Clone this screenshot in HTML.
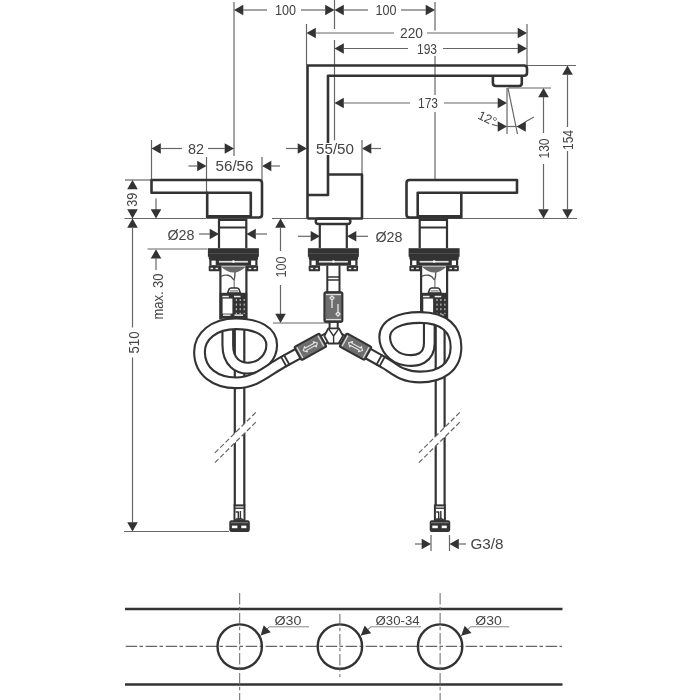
<!DOCTYPE html>
<html><head><meta charset="utf-8"><style>
html,body{margin:0;padding:0;background:#fff;}
svg{display:block;font-family:"Liberation Sans",sans-serif;will-change:transform;}
</style></head><body>
<svg width="700" height="700" viewBox="0 0 700 700">
<rect width="700" height="700" fill="#fff"/>
<line x1="234" y1="2" x2="234" y2="156" stroke="#666" stroke-width="1.2" />
<line x1="334.5" y1="0" x2="334.5" y2="29" stroke="#666" stroke-width="1.2" />
<line x1="334.5" y1="40" x2="334.5" y2="140.3" stroke="#666" stroke-width="1.2" />
<line x1="435" y1="2" x2="435" y2="30.5" stroke="#666" stroke-width="1.2" />
<line x1="435" y1="56" x2="435" y2="95" stroke="#666" stroke-width="1.2" />
<line x1="435" y1="112" x2="435" y2="180" stroke="#666" stroke-width="1.2" />
<polygon points="234.00,10.00 243.30,4.70 243.30,15.30" fill="#333"/>
<polygon points="334.50,10.00 325.20,4.70 325.20,15.30" fill="#333"/>
<line x1="243" y1="10" x2="267" y2="10" stroke="#666" stroke-width="1.2" />
<line x1="301" y1="10" x2="325.5" y2="10" stroke="#666" stroke-width="1.2" />
<text x="285.5" y="15.01" font-size="14" fill="#444" text-anchor="middle" textLength="21" lengthAdjust="spacingAndGlyphs">100</text>
<polygon points="334.50,10.00 343.80,4.70 343.80,15.30" fill="#333"/>
<polygon points="435.00,10.00 425.70,4.70 425.70,15.30" fill="#333"/>
<line x1="343.5" y1="10" x2="368" y2="10" stroke="#666" stroke-width="1.2" />
<line x1="401" y1="10" x2="426" y2="10" stroke="#666" stroke-width="1.2" />
<text x="386" y="15.01" font-size="14" fill="#444" text-anchor="middle" textLength="21" lengthAdjust="spacingAndGlyphs">100</text>
<line x1="306.5" y1="24" x2="306.5" y2="65" stroke="#666" stroke-width="1.2" />
<line x1="527" y1="24" x2="527" y2="65" stroke="#666" stroke-width="1.2" />
<polygon points="306.50,33.00 315.80,27.70 315.80,38.30" fill="#333"/>
<polygon points="527.00,33.00 517.70,27.70 517.70,38.30" fill="#333"/>
<line x1="315.5" y1="33" x2="394" y2="33" stroke="#666" stroke-width="1.2" />
<line x1="427" y1="33" x2="518" y2="33" stroke="#666" stroke-width="1.2" />
<text x="411.5" y="38.01" font-size="14" fill="#444" text-anchor="middle" textLength="23" lengthAdjust="spacingAndGlyphs">220</text>
<polygon points="334.50,48.50 343.80,43.20 343.80,53.80" fill="#333"/>
<polygon points="527.00,48.50 517.70,43.20 517.70,53.80" fill="#333"/>
<line x1="343.5" y1="48.5" x2="408" y2="48.5" stroke="#666" stroke-width="1.2" />
<line x1="443" y1="48.5" x2="518" y2="48.5" stroke="#666" stroke-width="1.2" />
<text x="427" y="53.51" font-size="14" fill="#444" text-anchor="middle" textLength="20" lengthAdjust="spacingAndGlyphs">193</text>
<polygon points="334.50,103.00 343.80,97.70 343.80,108.30" fill="#333"/>
<polygon points="507.00,103.00 497.70,97.70 497.70,108.30" fill="#333"/>
<line x1="343.5" y1="103" x2="410" y2="103" stroke="#666" stroke-width="1.2" />
<line x1="444" y1="103" x2="498" y2="103" stroke="#666" stroke-width="1.2" />
<text x="428" y="108.01" font-size="14" fill="#444" text-anchor="middle" textLength="20" lengthAdjust="spacingAndGlyphs">173</text>
<line x1="527" y1="65.5" x2="576" y2="65.5" stroke="#666" stroke-width="1.2" />
<polygon points="567.50,65.50 562.20,74.80 572.80,74.80" fill="#333"/>
<polygon points="567.50,218.50 562.20,209.20 572.80,209.20" fill="#333"/>
<line x1="567.5" y1="74.5" x2="567.5" y2="127" stroke="#666" stroke-width="1.2" />
<line x1="567.5" y1="151" x2="567.5" y2="209.5" stroke="#666" stroke-width="1.2" />
<text x="567.5" y="145.01" font-size="14" fill="#444" text-anchor="middle" textLength="20" lengthAdjust="spacingAndGlyphs" transform="rotate(-90 567.5 140)">154</text>
<line x1="508" y1="88" x2="551" y2="88" stroke="#666" stroke-width="1.2" />
<polygon points="543.50,88.00 538.20,97.30 548.80,97.30" fill="#333"/>
<polygon points="543.50,218.50 538.20,209.20 548.80,209.20" fill="#333"/>
<line x1="543.5" y1="97" x2="543.5" y2="133" stroke="#666" stroke-width="1.2" />
<line x1="543.5" y1="164" x2="543.5" y2="209.5" stroke="#666" stroke-width="1.2" />
<text x="543.5" y="153.51" font-size="14" fill="#444" text-anchor="middle" textLength="20" lengthAdjust="spacingAndGlyphs" transform="rotate(-90 543.5 148.5)">130</text>
<line x1="124.5" y1="218.5" x2="206" y2="218.5" stroke="#666" stroke-width="1.2" />
<line x1="272" y1="218.5" x2="577" y2="218.5" stroke="#666" stroke-width="1.2" />
<line x1="507" y1="88" x2="507" y2="134" stroke="#666" stroke-width="1.2" />
<line x1="508" y1="88" x2="517.5" y2="134" stroke="#666" stroke-width="1.2" />
<polygon points="507.00,126.50 497.70,121.20 497.70,131.80" fill="#333"/>
<polygon points="516.50,126.50 525.80,121.20 525.80,131.80" fill="#333"/>
<line x1="492" y1="124.3" x2="498" y2="126" stroke="#666" stroke-width="1.2" />
<line x1="525" y1="122" x2="534" y2="117" stroke="#666" stroke-width="1.2" />
<line x1="507" y1="126.5" x2="516.5" y2="126.5" stroke="#666" stroke-width="1.2" />
<text x="487.5" y="122.77" font-size="12.5" fill="#444" text-anchor="middle" transform="rotate(25 487.5 118.3)">12°</text>
<polygon points="307.00,148.50 297.70,143.20 297.70,153.80" fill="#333"/>
<polygon points="362.00,148.50 371.30,143.20 371.30,153.80" fill="#333"/>
<line x1="286" y1="148.5" x2="298" y2="148.5" stroke="#666" stroke-width="1.2" />
<line x1="371" y1="148.5" x2="381" y2="148.5" stroke="#666" stroke-width="1.2" />
<line x1="362" y1="140" x2="362" y2="174.5" stroke="#666" stroke-width="1.2" />
<line x1="151.5" y1="140" x2="151.5" y2="180" stroke="#666" stroke-width="1.2" />
<polygon points="151.50,148.50 160.80,143.20 160.80,153.80" fill="#333"/>
<polygon points="234.00,148.50 224.70,143.20 224.70,153.80" fill="#333"/>
<line x1="160.5" y1="148.5" x2="182" y2="148.5" stroke="#666" stroke-width="1.2" />
<line x1="208" y1="148.5" x2="225" y2="148.5" stroke="#666" stroke-width="1.2" />
<text x="196" y="153.51" font-size="14" fill="#444" text-anchor="middle" textLength="16" lengthAdjust="spacingAndGlyphs">82</text>
<polygon points="206.50,166.00 197.20,160.70 197.20,171.30" fill="#333"/>
<line x1="188.5" y1="166" x2="198" y2="166" stroke="#666" stroke-width="1.2" />
<polygon points="262.00,166.00 271.30,160.70 271.30,171.30" fill="#333"/>
<line x1="271" y1="166" x2="280" y2="166" stroke="#666" stroke-width="1.2" />
<line x1="206.5" y1="157" x2="206.5" y2="192.5" stroke="#666" stroke-width="1.2" />
<line x1="262" y1="157" x2="262" y2="180" stroke="#666" stroke-width="1.2" />
<text x="234.5" y="171.01" font-size="14" fill="#444" text-anchor="middle" textLength="38" lengthAdjust="spacingAndGlyphs">56/56</text>
<line x1="125" y1="180" x2="151.5" y2="180" stroke="#666" stroke-width="1.2" />
<polygon points="132.50,180.00 127.20,189.30 137.80,189.30" fill="#333"/>
<polygon points="132.50,218.50 127.20,209.20 137.80,209.20" fill="#333"/>
<polygon points="132.50,218.50 127.20,227.80 137.80,227.80" fill="#333"/>
<text x="132.5" y="204.81" font-size="14" fill="#444" text-anchor="middle" textLength="14" lengthAdjust="spacingAndGlyphs" transform="rotate(-90 132.5 199.8)">39</text>
<line x1="132.5" y1="227.5" x2="132.5" y2="327.5" stroke="#666" stroke-width="1.2" />
<line x1="132.5" y1="357.5" x2="132.5" y2="522.5" stroke="#666" stroke-width="1.2" />
<polygon points="132.50,531.50 127.20,522.20 137.80,522.20" fill="#333"/>
<text x="133.5" y="347.51" font-size="14" fill="#444" text-anchor="middle" textLength="22" lengthAdjust="spacingAndGlyphs" transform="rotate(-90 133.5 342.5)">510</text>
<line x1="124" y1="531.5" x2="229" y2="531.5" stroke="#666" stroke-width="1.2" />
<line x1="156" y1="198.5" x2="156" y2="210" stroke="#666" stroke-width="1.2" />
<polygon points="156.00,218.50 150.70,209.20 161.30,209.20" fill="#333"/>
<polygon points="156.00,249.30 150.70,258.60 161.30,258.60" fill="#333"/>
<line x1="156" y1="258" x2="156" y2="270" stroke="#666" stroke-width="1.2" />
<text x="158" y="301.51" font-size="14" fill="#444" text-anchor="middle" textLength="46" lengthAdjust="spacingAndGlyphs" transform="rotate(-90 158 296.5)">max. 30</text>
<line x1="147.5" y1="249" x2="207.5" y2="249" stroke="#666" stroke-width="1.2" />
<polygon points="280.50,218.50 275.20,227.80 285.80,227.80" fill="#333"/>
<line x1="280.5" y1="227.5" x2="280.5" y2="251" stroke="#666" stroke-width="1.2" />
<line x1="280.5" y1="285" x2="280.5" y2="314" stroke="#666" stroke-width="1.2" />
<polygon points="280.50,323.00 275.20,313.70 285.80,313.70" fill="#333"/>
<text x="280.5" y="272.01" font-size="14" fill="#444" text-anchor="middle" textLength="21" lengthAdjust="spacingAndGlyphs" transform="rotate(-90 280.5 267)">100</text>
<line x1="273" y1="323" x2="330" y2="323" stroke="#666" stroke-width="1.2" />
<polygon points="219.00,234.00 209.70,228.70 209.70,239.30" fill="#333"/>
<line x1="199" y1="234" x2="210" y2="234" stroke="#666" stroke-width="1.2" />
<polygon points="246.50,234.00 255.80,228.70 255.80,239.30" fill="#333"/>
<line x1="255.5" y1="234" x2="267" y2="234" stroke="#666" stroke-width="1.2" />
<text x="181" y="240.01" font-size="14" fill="#444" text-anchor="middle" textLength="27" lengthAdjust="spacingAndGlyphs">Ø28</text>
<polygon points="320.00,236.30 310.70,231.00 310.70,241.60" fill="#333"/>
<line x1="298" y1="236.3" x2="311" y2="236.3" stroke="#666" stroke-width="1.2" />
<polygon points="347.00,236.30 356.30,231.00 356.30,241.60" fill="#333"/>
<line x1="356" y1="236.3" x2="368" y2="236.3" stroke="#666" stroke-width="1.2" />
<text x="389" y="241.81" font-size="14" fill="#444" text-anchor="middle" textLength="27" lengthAdjust="spacingAndGlyphs">Ø28</text>
<line x1="431" y1="535" x2="431" y2="551" stroke="#666" stroke-width="1.2" />
<line x1="449.5" y1="535" x2="449.5" y2="551" stroke="#666" stroke-width="1.2" />
<polygon points="431.00,544.00 421.70,538.70 421.70,549.30" fill="#333"/>
<line x1="415" y1="544" x2="422" y2="544" stroke="#666" stroke-width="1.2" />
<polygon points="449.50,544.00 458.80,538.70 458.80,549.30" fill="#333"/>
<line x1="458.5" y1="544" x2="466" y2="544" stroke="#666" stroke-width="1.2" />
<text x="487" y="549.01" font-size="14" fill="#444" text-anchor="middle" textLength="33" lengthAdjust="spacingAndGlyphs">G3/8</text>
<path d="M307.5 218.5 V65.5 H524 Q527 65.5 527 68.5 V72.7 Q527 75.7 524 75.7 H328 V195 H307.5" stroke="#333" stroke-width="2.6" fill="none" stroke-linejoin="round" />
<path d="M328 174.5 H362 V218.5 H307.5" stroke="#333" stroke-width="2.6" fill="none" stroke-linejoin="round" />
<rect x="315" y="143" width="40" height="12" fill="#fff" stroke="none" stroke-width="0" rx="0"/>
<text x="335" y="154.01" font-size="14" fill="#444" text-anchor="middle" textLength="38" lengthAdjust="spacingAndGlyphs">55/50</text>
<path d="M492.9 75.7 V83 Q492.9 86 496 86 H519 Q521.8 86 521.8 83 V75.7" stroke="#333" stroke-width="2.6" fill="none" stroke-linejoin="round" />
<path d="M151.5 180 H259 Q262 180 262 183 V214.5 Q262 217.5 259 217.5 H207.2 V192.7 H151.5 Z" stroke="#333" stroke-width="2.6" fill="none" stroke-linejoin="round" />
<path d="M207.2 192.7 H250.8 V217.5" stroke="#333" stroke-width="2.6" fill="none" stroke-linejoin="round" />
<rect x="207.2" y="215" width="43.6" height="3" fill="#333" stroke="none" stroke-width="0" rx="0"/>
<path d="M517.0 180 H409.5 Q406.5 180 406.5 183 V214.5 Q406.5 217.5 409.5 217.5 H461.3 V192.7 H517.0 Z" stroke="#333" stroke-width="2.6" fill="none" stroke-linejoin="round" />
<path d="M461.3 192.7 H417.7 V217.5" stroke="#333" stroke-width="2.6" fill="none" stroke-linejoin="round" />
<rect x="417.7" y="215" width="43.6" height="3" fill="#333" stroke="none" stroke-width="0" rx="0"/>
<path d="M219 218.5 V248 M246.3 218.5 V248" stroke="#333" stroke-width="2.2" fill="none" stroke-linejoin="round" />
<rect x="219" y="218.5" width="27.3" height="2.5" fill="#333" stroke="none" stroke-width="0" rx="0"/>
<line x1="219" y1="227.5" x2="246.3" y2="227.5" stroke="#333" stroke-width="2" />
<rect x="207.9" y="248.2" width="51" height="8.6" fill="#333" stroke="none" stroke-width="0" rx="0"/>
<rect x="208.70000000000002" y="254.5" width="49.4" height="5.5" fill="#333" stroke="none" stroke-width="0" rx="1.5"/>
<rect x="208.9" y="253.2" width="49" height="0.8" fill="#555" stroke="none" stroke-width="0" rx="0"/>
<rect x="209.3" y="259.5" width="48.2" height="6.2" fill="#333" stroke="none" stroke-width="0" rx="0"/>
<rect x="211.5" y="260.6" width="4.2" height="4.4" fill="#fff" stroke="none" stroke-width="0" rx="0"/>
<rect x="251.09999999999997" y="260.6" width="4.2" height="4.4" fill="#fff" stroke="none" stroke-width="0" rx="0"/>
<rect x="218.9" y="260.9" width="29" height="1.7" fill="#e0e0e0" stroke="none" stroke-width="0" rx="0"/>
<rect x="232.1" y="260.2" width="2.6" height="2.6" fill="#fff" stroke="none" stroke-width="0" rx="1.3"/>
<rect x="208.70000000000002" y="265.5" width="11.4" height="5.8" fill="#333" stroke="none" stroke-width="0" rx="1"/>
<rect x="246.7" y="265.5" width="11.4" height="5.8" fill="#333" stroke="none" stroke-width="0" rx="1"/>
<rect x="210.5" y="267.8" width="2.6" height="1.4" fill="#eee" stroke="none" stroke-width="0" rx="0"/>
<rect x="215.5" y="267.8" width="2.6" height="1.4" fill="#eee" stroke="none" stroke-width="0" rx="0"/>
<rect x="248.7" y="267.8" width="2.6" height="1.4" fill="#eee" stroke="none" stroke-width="0" rx="0"/>
<rect x="253.7" y="267.8" width="2.6" height="1.4" fill="#eee" stroke="none" stroke-width="0" rx="0"/>
<path d="M220.4 265.5 V319.6 M246.4 265.5 V319.6" stroke="#333" stroke-width="2.2" fill="none" stroke-linejoin="round" />
<path d="M221 276.4 C226 274 231 275 233 279 C234 281 235 279 235 272" stroke="#555" stroke-width="1.4" fill="none" stroke-linejoin="round" />
<line x1="234.2" y1="280" x2="234.2" y2="288" stroke="#777" stroke-width="1.2" />
<path d="M227.6 293 L229 289.2 Q229.8 288 231 288 H237 Q238.2 288 239 289.2 L240.4 293 Z" stroke="#333" stroke-width="1.6" fill="#fff" stroke-linejoin="round" />
<rect x="230" y="290.3" width="8" height="1.2" fill="#777" stroke="none" stroke-width="0" rx="0"/>
<path d="M221 266.5 H246 Q240 272.5 233.5 272.5 Q227 272.5 221 266.5 Z" stroke="#333" stroke-width="0" fill="#6a6a6a" stroke-linejoin="round" />
<rect x="219.6" y="292.8" width="27.6" height="26" fill="#333" stroke="none" stroke-width="0" rx="0"/>
<rect x="222.3" y="295.8" width="6.5" height="1.5" fill="#eee" stroke="none" stroke-width="0" rx="0"/>
<rect x="234" y="295.8" width="6.5" height="1.5" fill="#eee" stroke="none" stroke-width="0" rx="0"/>
<rect x="222.6" y="298.6" width="9.8" height="15" fill="#fff" stroke="none" stroke-width="0" rx="0"/>
<line x1="236.3" y1="299" x2="236.3" y2="314" stroke="#ddd" stroke-width="1" stroke-dasharray="2,2.6"/>
<line x1="240.2" y1="299" x2="240.2" y2="314" stroke="#ddd" stroke-width="1" stroke-dasharray="2,2.6"/>
<line x1="244.2" y1="299" x2="244.2" y2="314" stroke="#ddd" stroke-width="1" stroke-dasharray="2,2.6"/>
<rect x="223" y="314.4" width="7.5" height="1.5" fill="#eee" stroke="none" stroke-width="0" rx="0"/>
<rect x="234.5" y="314.4" width="8.5" height="1.5" fill="#eee" stroke="none" stroke-width="0" rx="0"/>
<path d="M419.7 218.5 V248 M447.0 218.5 V248" stroke="#333" stroke-width="2.2" fill="none" stroke-linejoin="round" />
<rect x="419.7" y="218.5" width="27.3" height="2.5" fill="#333" stroke="none" stroke-width="0" rx="0"/>
<line x1="419.7" y1="227.5" x2="447.0" y2="227.5" stroke="#333" stroke-width="2" />
<rect x="408.6" y="248.2" width="51" height="8.6" fill="#333" stroke="none" stroke-width="0" rx="0"/>
<rect x="409.40000000000003" y="254.5" width="49.4" height="5.5" fill="#333" stroke="none" stroke-width="0" rx="1.5"/>
<rect x="409.6" y="253.2" width="49" height="0.8" fill="#555" stroke="none" stroke-width="0" rx="0"/>
<rect x="410.0" y="259.5" width="48.2" height="6.2" fill="#333" stroke="none" stroke-width="0" rx="0"/>
<rect x="412.20000000000005" y="260.6" width="4.2" height="4.4" fill="#fff" stroke="none" stroke-width="0" rx="0"/>
<rect x="451.8" y="260.6" width="4.2" height="4.4" fill="#fff" stroke="none" stroke-width="0" rx="0"/>
<rect x="419.6" y="260.9" width="29" height="1.7" fill="#e0e0e0" stroke="none" stroke-width="0" rx="0"/>
<rect x="432.8" y="260.2" width="2.6" height="2.6" fill="#fff" stroke="none" stroke-width="0" rx="1.3"/>
<rect x="409.40000000000003" y="265.5" width="11.4" height="5.8" fill="#333" stroke="none" stroke-width="0" rx="1"/>
<rect x="447.40000000000003" y="265.5" width="11.4" height="5.8" fill="#333" stroke="none" stroke-width="0" rx="1"/>
<rect x="411.20000000000005" y="267.8" width="2.6" height="1.4" fill="#eee" stroke="none" stroke-width="0" rx="0"/>
<rect x="416.20000000000005" y="267.8" width="2.6" height="1.4" fill="#eee" stroke="none" stroke-width="0" rx="0"/>
<rect x="449.40000000000003" y="267.8" width="2.6" height="1.4" fill="#eee" stroke="none" stroke-width="0" rx="0"/>
<rect x="454.40000000000003" y="267.8" width="2.6" height="1.4" fill="#eee" stroke="none" stroke-width="0" rx="0"/>
<path d="M421.1 265.5 V319.6 M447.1 265.5 V319.6" stroke="#333" stroke-width="2.2" fill="none" stroke-linejoin="round" />
<path d="M421.7 276.4 C426.7 274 431.7 275 433.7 279 C434.7 281 435.7 279 435.7 272" stroke="#555" stroke-width="1.4" fill="none" stroke-linejoin="round" />
<line x1="434.9" y1="280" x2="434.9" y2="288" stroke="#777" stroke-width="1.2" />
<path d="M428.29999999999995 293 L429.7 289.2 Q430.5 288 431.7 288 H437.7 Q438.9 288 439.7 289.2 L441.1 293 Z" stroke="#333" stroke-width="1.6" fill="#fff" stroke-linejoin="round" />
<rect x="430.7" y="290.3" width="8" height="1.2" fill="#777" stroke="none" stroke-width="0" rx="0"/>
<path d="M421.7 266.5 H446.7 Q440.7 272.5 434.2 272.5 Q427.7 272.5 421.7 266.5 Z" stroke="#333" stroke-width="0" fill="#6a6a6a" stroke-linejoin="round" />
<rect x="420.29999999999995" y="292.8" width="27.6" height="26" fill="#333" stroke="none" stroke-width="0" rx="0"/>
<rect x="423.0" y="295.8" width="6.5" height="1.5" fill="#eee" stroke="none" stroke-width="0" rx="0"/>
<rect x="434.7" y="295.8" width="6.5" height="1.5" fill="#eee" stroke="none" stroke-width="0" rx="0"/>
<rect x="423.29999999999995" y="298.6" width="9.8" height="15" fill="#fff" stroke="none" stroke-width="0" rx="0"/>
<line x1="437.0" y1="299" x2="437.0" y2="314" stroke="#ddd" stroke-width="1" stroke-dasharray="2,2.6"/>
<line x1="440.9" y1="299" x2="440.9" y2="314" stroke="#ddd" stroke-width="1" stroke-dasharray="2,2.6"/>
<line x1="444.9" y1="299" x2="444.9" y2="314" stroke="#ddd" stroke-width="1" stroke-dasharray="2,2.6"/>
<rect x="423.7" y="314.4" width="7.5" height="1.5" fill="#eee" stroke="none" stroke-width="0" rx="0"/>
<rect x="435.2" y="314.4" width="8.5" height="1.5" fill="#eee" stroke="none" stroke-width="0" rx="0"/>
<path d="M318.5 224 Q315.7 224 315.7 221.3 Q315.7 218.7 318.5 218.7 H347.6 Q350.4 218.7 350.4 221.3 Q350.4 224 347.6 224 Z" stroke="#333" stroke-width="2.4" fill="none" stroke-linejoin="round" />
<path d="M319.8 224 V248 M346.8 224 V248" stroke="#333" stroke-width="2.2" fill="none" stroke-linejoin="round" />
<rect x="307.9" y="248.2" width="51" height="8.6" fill="#333" stroke="none" stroke-width="0" rx="0"/>
<rect x="308.7" y="254.5" width="49.4" height="5.5" fill="#333" stroke="none" stroke-width="0" rx="1.5"/>
<rect x="308.9" y="253.2" width="49" height="0.8" fill="#555" stroke="none" stroke-width="0" rx="0"/>
<rect x="309.29999999999995" y="259.5" width="48.2" height="6.2" fill="#333" stroke="none" stroke-width="0" rx="0"/>
<rect x="311.5" y="260.6" width="4.2" height="4.4" fill="#fff" stroke="none" stroke-width="0" rx="0"/>
<rect x="351.09999999999997" y="260.6" width="4.2" height="4.4" fill="#fff" stroke="none" stroke-width="0" rx="0"/>
<rect x="318.9" y="260.9" width="29" height="1.7" fill="#e0e0e0" stroke="none" stroke-width="0" rx="0"/>
<rect x="332.09999999999997" y="260.2" width="2.6" height="2.6" fill="#fff" stroke="none" stroke-width="0" rx="1.3"/>
<rect x="308.7" y="265.5" width="11.4" height="5.8" fill="#333" stroke="none" stroke-width="0" rx="1"/>
<rect x="346.7" y="265.5" width="11.4" height="5.8" fill="#333" stroke="none" stroke-width="0" rx="1"/>
<rect x="310.5" y="267.8" width="2.6" height="1.4" fill="#eee" stroke="none" stroke-width="0" rx="0"/>
<rect x="315.5" y="267.8" width="2.6" height="1.4" fill="#eee" stroke="none" stroke-width="0" rx="0"/>
<rect x="348.7" y="267.8" width="2.6" height="1.4" fill="#eee" stroke="none" stroke-width="0" rx="0"/>
<rect x="353.7" y="267.8" width="2.6" height="1.4" fill="#eee" stroke="none" stroke-width="0" rx="0"/>
<path d="M327.3 265.5 V292.6 M339.5 265.5 V292.6" stroke="#333" stroke-width="2" fill="none" stroke-linejoin="round" />
<line x1="327.3" y1="277" x2="339.5" y2="277" stroke="#333" stroke-width="1.5" />
<line x1="327.3" y1="280" x2="339.5" y2="280" stroke="#333" stroke-width="1.5" />
<rect x="325" y="292.6" width="16.7" height="29.1" fill="#6a6a6a" stroke="#333" stroke-width="2" rx="1.5"/>
<line x1="234.8" y1="330" x2="234.8" y2="505.4" stroke="#333" stroke-width="2.2" />
<line x1="244.3" y1="330" x2="244.3" y2="505.4" stroke="#333" stroke-width="2.2" />
<line x1="435.7" y1="323" x2="435.7" y2="505.4" stroke="#333" stroke-width="2.2" />
<line x1="444.6" y1="323" x2="444.6" y2="505.4" stroke="#333" stroke-width="2.2" />
<polygon points="214.9,452.9 257.1,411.1 257.1,420.9 214.9,462.6" fill="#fff"/>
<line x1="214.9" y1="452.9" x2="257.1" y2="411.1" stroke="#666" stroke-width="1.2" stroke-dasharray="5,2.5"/>
<line x1="214.9" y1="462.6" x2="257.1" y2="420.9" stroke="#666" stroke-width="1.2" stroke-dasharray="5,2.5"/>
<polygon points="418.9,452.9 461.1,411.1 461.1,420.9 418.9,462.6" fill="#fff"/>
<line x1="418.9" y1="452.9" x2="461.1" y2="411.1" stroke="#666" stroke-width="1.2" stroke-dasharray="5,2.5"/>
<line x1="418.9" y1="462.6" x2="461.1" y2="420.9" stroke="#666" stroke-width="1.2" stroke-dasharray="5,2.5"/>
<rect x="234.5" y="505.4" width="10" height="14.8" fill="#fff" stroke="#333" stroke-width="2" rx="0"/>
<line x1="234.8" y1="508.2" x2="244.3" y2="508.2" stroke="#333" stroke-width="1.4" />
<path d="M235.8 512 H238.3 V519 H235.8" stroke="#333" stroke-width="1.4" fill="#fff" stroke-linejoin="round" />
<path d="M240.4 511 V517.5 Q240.4 519 242.8 519.5 M240.4 517.5 Q240.4 519 238.3 519.5" stroke="#333" stroke-width="1.4" fill="none" stroke-linejoin="round" />
<rect x="229.3" y="520.2" width="20.5" height="11.8" fill="#333" stroke="none" stroke-width="0" rx="2.2"/>
<rect x="230.8" y="522.3" width="17.5" height="0.9" fill="#888" stroke="none" stroke-width="0" rx="0"/>
<rect x="231.9" y="525.6" width="5.5" height="2.6" fill="#fff" stroke="none" stroke-width="0" rx="0"/>
<rect x="241.3" y="525.6" width="5.1" height="2.6" fill="#fff" stroke="none" stroke-width="0" rx="0"/>
<rect x="434.9" y="505.4" width="10" height="14.8" fill="#fff" stroke="#333" stroke-width="2" rx="0"/>
<line x1="435.2" y1="508.2" x2="444.7" y2="508.2" stroke="#333" stroke-width="1.4" />
<path d="M436.2 512 H438.7 V519 H436.2" stroke="#333" stroke-width="1.4" fill="#fff" stroke-linejoin="round" />
<path d="M440.8 511 V517.5 Q440.8 519 443.2 519.5 M440.8 517.5 Q440.8 519 438.7 519.5" stroke="#333" stroke-width="1.4" fill="none" stroke-linejoin="round" />
<rect x="429.7" y="520.2" width="20.5" height="11.8" fill="#333" stroke="none" stroke-width="0" rx="2.2"/>
<rect x="431.2" y="522.3" width="17.5" height="0.9" fill="#888" stroke="none" stroke-width="0" rx="0"/>
<rect x="432.3" y="525.6" width="5.5" height="2.6" fill="#fff" stroke="none" stroke-width="0" rx="0"/>
<rect x="441.7" y="525.6" width="5.1" height="2.6" fill="#fff" stroke="none" stroke-width="0" rx="0"/>
<path d="M227.8 319.5 V345 C227.8 362 238 369 250 368 C262 367 271.7 357 271.7 345" stroke="#333" stroke-width="12.8" fill="none" stroke-linecap="butt"/>
<path d="M227.8 319.5 V345 C227.8 362 238 369 250 368 C262 367 271.7 357 271.7 345" stroke="#fff" stroke-width="8.600000000000001" fill="none" stroke-linecap="butt"/>
<path d="M271.7 345 C271.7 332 258 323.8 236 323.8 C214 323.8 199.5 336 199.5 352" stroke="#333" stroke-width="12.8" fill="none" stroke-linecap="butt"/>
<path d="M271.7 345 C271.7 332 258 323.8 236 323.8 C214 323.8 199.5 336 199.5 352" stroke="#fff" stroke-width="8.600000000000001" fill="none" stroke-linecap="butt"/>
<path d="M199.5 352 C199.5 372 216 382.8 236 382.8 C256 382.8 268 370 282.35 362.3 L298 353.7" stroke="#333" stroke-width="12.8" fill="none" stroke-linecap="butt"/>
<path d="M199.5 352 C199.5 372 216 382.8 236 382.8 C256 382.8 268 370 282.35 362.3 L298 353.7" stroke="#fff" stroke-width="8.600000000000001" fill="none" stroke-linecap="butt"/>
<path d="M429.3 317.5 V343 C429.3 358 418 362 405 360 C393 358 384.7 348 384.7 337" stroke="#333" stroke-width="12.8" fill="none" stroke-linecap="butt"/>
<path d="M429.3 317.5 V343 C429.3 358 418 362 405 360 C393 358 384.7 348 384.7 337" stroke="#fff" stroke-width="8.600000000000001" fill="none" stroke-linecap="butt"/>
<path d="M384.7 337 C384.7 324 400 317.5 420 317.5 C445 317.5 456 330 456 347" stroke="#333" stroke-width="12.8" fill="none" stroke-linecap="butt"/>
<path d="M384.7 337 C384.7 324 400 317.5 420 317.5 C445 317.5 456 330 456 347" stroke="#fff" stroke-width="8.600000000000001" fill="none" stroke-linecap="butt"/>
<path d="M456 347 C456 368 440 377 420 377 C400 377 393 367 383.5 362.3 L368 353.6" stroke="#333" stroke-width="12.8" fill="none" stroke-linecap="butt"/>
<path d="M456 347 C456 368 440 377 420 377 C400 377 393 367 383.5 362.3 L368 353.6" stroke="#fff" stroke-width="8.600000000000001" fill="none" stroke-linecap="butt"/>
<line x1="283.73" y1="354.47" x2="289.74" y2="365.31" stroke="#333" stroke-width="1.8" />
<line x1="280.67" y1="356.16" x2="286.68" y2="367.01" stroke="#333" stroke-width="1.8" />
<line x1="382.17" y1="354.37" x2="376.16" y2="365.21" stroke="#333" stroke-width="1.8" />
<line x1="385.23" y1="356.06" x2="379.22" y2="366.91" stroke="#333" stroke-width="1.8" />
<path d="M329.6 321.8 V328 M337.7 321.8 V328" stroke="#333" stroke-width="2" fill="none" stroke-linejoin="round" />
<g transform="translate(310.35 346.8) rotate(-29)">
<rect x="13" y="-4.5" width="9" height="9" fill="#fff" stroke="#333" stroke-width="1.8" rx="0"/>
</g>
<g transform="translate(355.55 346.7) rotate(29)">
<rect x="-22" y="-4.5" width="9" height="9" fill="#fff" stroke="#333" stroke-width="1.8" rx="0"/>
</g>
<g transform="translate(310.35 346.8) rotate(-29)">
<rect x="-14.3" y="-7.5" width="28.6" height="15" fill="#6e6e6e" stroke="#333" stroke-width="2" rx="1.5"/>
<line x1="-12" y1="-6" x2="-12" y2="6" stroke="#ddd" stroke-width="1.2" />
<line x1="12" y1="-6" x2="12" y2="6" stroke="#ddd" stroke-width="1.2" />
<path d="M-8 0 L-5 -3 V-1.3 H5 V-3 L8 0 L5 3 V1.3 H-5 V3 Z" stroke="#e8e8e8" stroke-width="1.1" fill="none" stroke-linejoin="round" />
</g>
<g transform="translate(355.55 346.7) rotate(29)">
<rect x="-14.3" y="-7.5" width="28.6" height="15" fill="#6e6e6e" stroke="#333" stroke-width="2" rx="1.5"/>
<line x1="-12" y1="-6" x2="-12" y2="6" stroke="#ddd" stroke-width="1.2" />
<line x1="12" y1="-6" x2="12" y2="6" stroke="#ddd" stroke-width="1.2" />
<path d="M-8 0 L-5 -3 V-1.3 H5 V-3 L8 0 L5 3 V1.3 H-5 V3 Z" stroke="#e8e8e8" stroke-width="1.1" fill="none" stroke-linejoin="round" />
</g>
<g transform="translate(0 0)">
<rect x="324.4" y="292.3" width="18" height="29.5" fill="#6e6e6e" stroke="#333" stroke-width="2" rx="1.5"/>
<line x1="326" y1="294.6" x2="341" y2="294.6" stroke="#ddd" stroke-width="1.2" />
<line x1="326" y1="319.5" x2="341" y2="319.5" stroke="#ddd" stroke-width="1.2" />
<path d="M330 298 L332 296 L334 298 L332 300 Z M336 314 L338 312 L340 314 L338 316 Z M332 300 V308 M338 304 V312" stroke="#e8e8e8" stroke-width="1.3" fill="none" stroke-linejoin="round" />
</g>
<path d="M328.3 328.3 L339 328.3 L343 336 L338.5 343.5 L328.5 343.5 L324.3 336 Z" stroke="#333" stroke-width="1.8" fill="#fff" stroke-linejoin="round" />
<path d="M333.6 336 L328.3 328.3 M333.6 336 L339 328.3 M333.6 336 V343.5" stroke="#333" stroke-width="1.4" fill="none" stroke-linejoin="round" />
<line x1="125" y1="609" x2="562.5" y2="609" stroke="#333" stroke-width="2.4" />
<line x1="125" y1="684.5" x2="562.5" y2="684.5" stroke="#333" stroke-width="2.4" />
<line x1="125.7" y1="646.4" x2="562" y2="646.4" stroke="#666" stroke-width="1.2" stroke-dasharray="11.5,2.3,3.5,2.7"/>
<circle cx="239.7" cy="646.6" r="22.2" stroke="#333" stroke-width="2.4" fill="none"/>
<line x1="239.7" y1="593" x2="239.7" y2="700" stroke="#666" stroke-width="1" stroke-dasharray="11.5,2.3,3.5,2.7"/>
<circle cx="339.9" cy="646.6" r="22.2" stroke="#333" stroke-width="2.4" fill="none"/>
<line x1="339.9" y1="614" x2="339.9" y2="677" stroke="#666" stroke-width="1" stroke-dasharray="11.5,2.3,3.5,2.7"/>
<circle cx="440.1" cy="646.6" r="22.2" stroke="#333" stroke-width="2.4" fill="none"/>
<line x1="440.1" y1="593" x2="440.1" y2="700" stroke="#666" stroke-width="1" stroke-dasharray="11.5,2.3,3.5,2.7"/>
<line x1="269.3" y1="626.8" x2="309" y2="626.8" stroke="#888" stroke-width="1" />
<line x1="269.3" y1="626.8" x2="260.6" y2="635.6" stroke="#666" stroke-width="1" />
<polygon points="260.60,635.60 263.72,625.33 270.83,632.36" fill="#333"/>
<text x="288" y="625.25" font-size="13" fill="#444" text-anchor="middle" textLength="27" lengthAdjust="spacingAndGlyphs">Ø30</text>
<line x1="370.9" y1="626.8" x2="421" y2="626.8" stroke="#888" stroke-width="1" />
<line x1="370.9" y1="626.8" x2="360.8" y2="635.6" stroke="#666" stroke-width="1" />
<polygon points="360.80,635.60 364.68,625.59 371.25,633.13" fill="#333"/>
<text x="397.6" y="625.25" font-size="13" fill="#444" text-anchor="middle" textLength="44" lengthAdjust="spacingAndGlyphs">Ø30-34</text>
<line x1="470.7" y1="626.8" x2="509.3" y2="626.8" stroke="#888" stroke-width="1" />
<line x1="470.7" y1="626.8" x2="461.2" y2="635.8" stroke="#666" stroke-width="1" />
<polygon points="461.20,635.80 464.66,625.64 471.54,632.90" fill="#333"/>
<text x="488.5" y="625.25" font-size="13" fill="#444" text-anchor="middle" textLength="26.5" lengthAdjust="spacingAndGlyphs">Ø30</text>
</svg></body></html>
